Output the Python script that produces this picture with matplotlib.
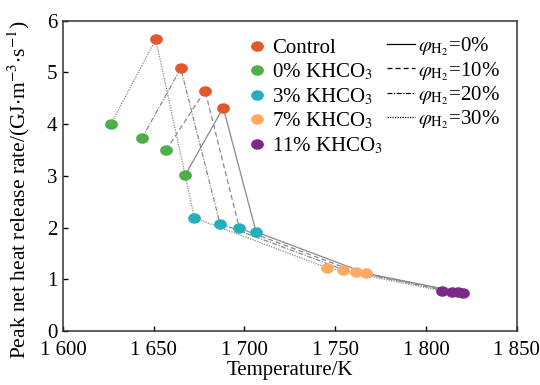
import matplotlib
matplotlib.use("Agg")
import matplotlib.pyplot as plt
from matplotlib.path import Path
from matplotlib.lines import Line2D
from matplotlib.transforms import Affine2D
import numpy as np

plt.rcParams['font.family'] = ['Liberation Serif', 'DejaVu Serif']
plt.rcParams['mathtext.fontset'] = 'stix'
plt.rcParams['font.size'] = 15

# Data (ordered by hydrogen fraction: 0%, 10%, 20%, 30%)
phi_labels = [r'$\varphi_{\mathrm{H_2}}$=0%', r'$\varphi_{\mathrm{H_2}}$=10%',
              r'$\varphi_{\mathrm{H_2}}$=20%', r'$\varphi_{\mathrm{H_2}}$=30%']
group_labels = ['Control', r'0% KHCO$_3$', r'3% KHCO$_3$', r'7% KHCO$_3$', r'11% KHCO$_3$']

control_T = [1688.3, 1678.3, 1664.9, 1651.1]
control_Q = [4.32, 4.65, 5.08, 5.64]
khco3_0_T = [1667.4, 1656.8, 1643.5, 1626.5]
khco3_0_Q = [3.02, 3.50, 3.73, 4.01]
khco3_3_T = [1706.4, 1697.2, 1686.5, 1672.4]
khco3_3_Q = [1.92, 1.99, 2.08, 2.19]
khco3_7_T = [1767.0, 1761.3, 1754.5, 1745.3]
khco3_7_Q = [1.12, 1.15, 1.19, 1.23]
khco3_11_T = [1820.6, 1817.8, 1814.2, 1808.7]
khco3_11_Q = [0.74, 0.755, 0.76, 0.78]

xticks = [1600, 1650, 1700, 1750, 1800, 1850]
xticklabels = ['1 600', '1 650', '1 700', '1 750', '1 800', '1 850']
yticks = [0, 1, 2, 3, 4, 5, 6]

colors = ['#E2582B', '#4DAE4A', '#22AFBE', '#FDAA62', '#7B2A88']
line_styles = ['-', (0, (4, 2.5)), (0, (4, 1.2, 1, 1.2)), (0, (1, 1))]

# Line path order: 0% KHCO3 -> Control -> 3% -> 7% -> 11%
path_T = [khco3_0_T, control_T, khco3_3_T, khco3_7_T, khco3_11_T]
path_Q = [khco3_0_Q, control_Q, khco3_3_Q, khco3_7_Q, khco3_11_Q]

group_T = [control_T, khco3_0_T, khco3_3_T, khco3_7_T, khco3_11_T]
group_Q = [control_Q, khco3_0_Q, khco3_3_Q, khco3_7_Q, khco3_11_Q]

# Ellipse marker
ell = Path.unit_circle().transformed(Affine2D().scale(1.0, 0.82))

fig = plt.figure(figsize=(5.4, 3.85), dpi=100)
ax = fig.add_axes([0.1167, 0.1397, 0.84, 0.8065])

for i in range(4):
    xs = [p[i] for p in path_T]
    ys = [p[i] for p in path_Q]
    ax.plot(xs, ys, color='#8a8a8a', lw=0.9, ls=line_styles[i], zorder=1)

for T, Q, c in zip(group_T, group_Q, colors):
    ax.plot(T, Q, ls='none', marker=ell, ms=9.2, color=c, mec='none', zorder=3)

ax.set_xlim(1600, 1850)
ax.set_ylim(0, 6)
ax.set_xticks(xticks)
ax.set_xticklabels(xticklabels)
ax.set_yticks(yticks)
ax.tick_params(direction='in', length=3.5, width=1, top=False, right=False)
ax.tick_params(axis='x', pad=7)
ax.tick_params(axis='y', pad=4)
for s in ax.spines.values():
    s.set_linewidth(1.1)
    s.set_color('#333333')
ax.set_xlabel('Temperature/K', labelpad=0.5)
ax.set_ylabel(r'Peak net heat release rate/(GJ$\cdot$m$^{-3}$$\cdot$s$^{-1}$)',
              fontsize=15.5)
ax.yaxis.set_label_coords(-0.068, 0.455)

h1 = [Line2D([], [], ls='none', marker=ell, ms=9.2, color=c, mec='none') for c in colors]
leg1 = ax.legend(h1, group_labels, loc='upper left', bbox_to_anchor=(0.4144, 0.942),
                 frameon=False, handlelength=0.6, handletextpad=0.4, labelspacing=0.18,
                 borderaxespad=0, borderpad=0)
ax.add_artist(leg1)
h2 = [Line2D([], [], color='black', lw=0.9, ls=ls) for ls in line_styles]
ax.legend(h2, phi_labels, loc='upper left', bbox_to_anchor=(0.7136, 0.952),
          frameon=False, handlelength=1.35, handletextpad=0.15, labelspacing=0.065,
          borderaxespad=0, borderpad=0)

fig.savefig('out.png', dpi=100)
